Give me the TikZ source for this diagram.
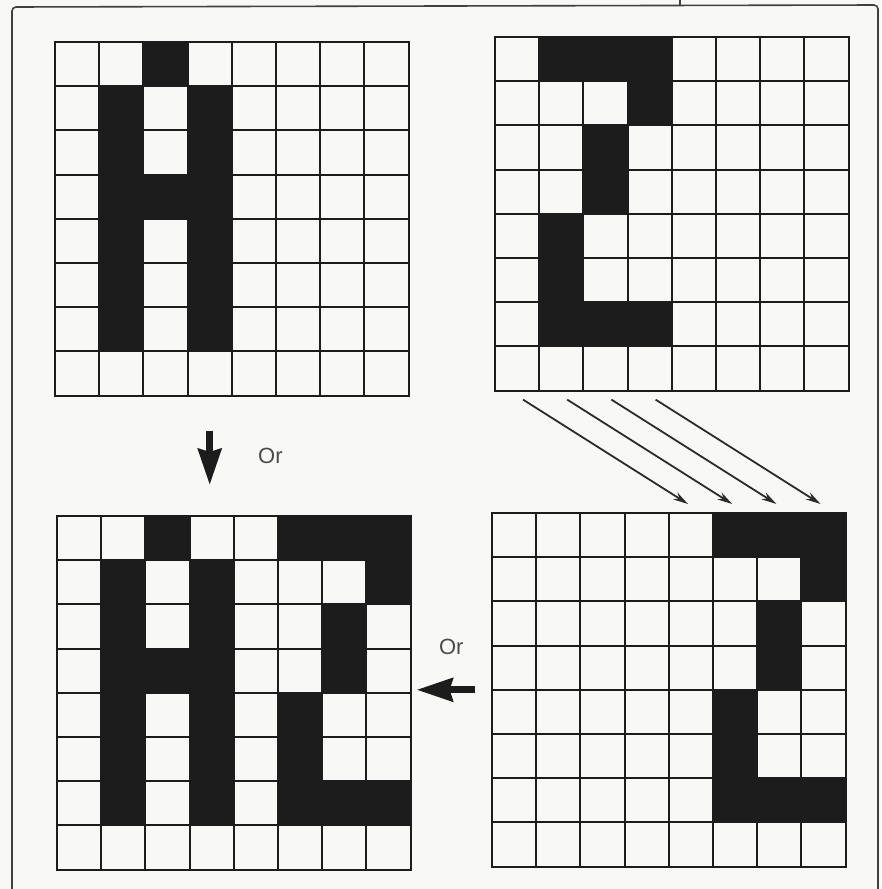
\documentclass[tikz,border=0pt]{standalone}
\usepackage{fontspec}
\setmainfont{Liberation Sans}
\usepackage{tikz}
\usetikzlibrary{positioning,arrows.meta,calc}
\definecolor{cInk}{HTML}{1C1C1C}
\definecolor{cLine}{HTML}{2B2B2B}
\definecolor{cPaper}{HTML}{F8F8F6}
\newcommand{\cs}{44.2}
\tikzset{
  board/.style={draw=cInk, line width=2.2pt, minimum size=353.6pt,
                inner sep=0pt, outer sep=0pt, anchor=north west},
  gline/.style={cInk, line width=2.1pt},
  frame/.style={cLine!90, line width=1.6pt},
  thinar/.style={-{Stealth[length=15pt, width=8pt]}, cLine, line width=1.8pt},
  bigar/.style={-{Stealth[length=36pt, width=23pt, inset=3pt]}, cInk, line width=7pt},
  tag/.style={font=\fontsize{22}{26}\selectfont, text=cLine!85, inner sep=0pt}
}
% inner lines first, then the black cells over them
\newcommand{\pixcells}[2]{%
  \foreach \k in {1,...,7}{
    \draw[gline] ($(#1.north west)+(\k*\cs,0)$) -- ++(0,8*\cs);
    \draw[gline] ($(#1.north west)+(0,\k*\cs)$) -- ++(8*\cs,0);
  }
  \foreach \c/\r in {#2}
    \fill[cInk] ($(#1.north west)+(\c*\cs,\r*\cs)$) rectangle ++(\cs,\cs);
  }

\begin{document}
\begin{tikzpicture}[x=1pt, y=-1pt]
\fill[cPaper] (0,0) rectangle (881,889);
\useasboundingbox (0,0) rectangle (881,889);
\draw[frame, rounded corners=4pt] (12,889) -- (12,7) -- (878,5) -- (878,889);
\draw[frame] (680,0) -- (680,6);

\node[board] (gH) at (55,42) {};
\node[board] (gTwo) at (495,37) {};
\node[board] (gHTwo) at (57,516) {};
\node[board] (gShift) at (492,513) {};

\pixcells{gH}{2/0,1/1,3/1,1/2,3/2,1/3,2/3,3/3,1/4,3/4,1/5,3/5,1/6,3/6}
\pixcells{gTwo}{1/0,2/0,3/0,3/1,2/2,2/3,1/4,1/5,1/6,2/6,3/6}
\pixcells{gHTwo}{2/0,1/1,3/1,1/2,3/2,1/3,2/3,3/3,1/4,3/4,1/5,3/5,1/6,3/6,
  5/0,6/0,7/0,7/1,6/2,6/3,5/4,5/5,5/6,6/6,7/6}
\pixcells{gShift}{5/0,6/0,7/0,7/1,6/2,6/3,5/4,5/5,5/6,6/6,7/6}

\foreach \i in {0,...,3}
  \draw[thinar] ($(gTwo.south west)+(\i*\cs+28,9)$) -- ($(gShift.north west)+(\i*\cs+196,-9)$);

\draw[bigar, shorten <=35pt, shorten >=31pt] ($(gH.south west)+(3.5*\cs,0)$) coordinate (dn)
  -- (dn |- gHTwo.north) node[tag, midway, right=45pt] (orDown) {Or};
\draw[bigar, shorten <=17pt, shorten >=6pt] (gShift.west)
  -- (gShift.west -| gHTwo.east) node[tag, midway, above=32pt] (orLeft) {Or};
\end{tikzpicture}
\end{document}
